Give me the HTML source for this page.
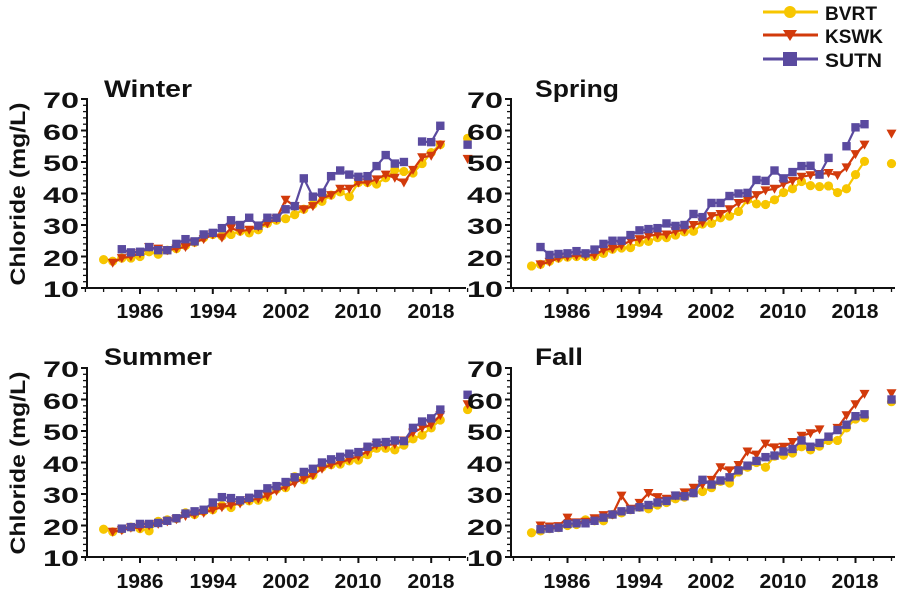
<!DOCTYPE html>
<html><head><meta charset="utf-8"><style>
html,body{margin:0;padding:0;background:#fff}
svg{display:block}
text{font-family:"Liberation Sans",sans-serif;font-weight:bold;fill:#111}
</style></head><body>
<svg id="s" width="900" height="610" viewBox="0 0 900 610" xmlns="http://www.w3.org/2000/svg">
<g id="axes" stroke="#111" stroke-width="2" fill="none"></g>
<g id="series"></g>
<text x="104" y="97" font-size="24" textLength="88">Winter</text>
<text x="535" y="97" font-size="24" textLength="84">Spring</text>
<text x="104" y="365" font-size="24" textLength="108">Summer</text>
<text x="535" y="365" font-size="24" textLength="48">Fall</text>
<text transform="translate(25,194) rotate(-90)" text-anchor="middle" font-size="21" textLength="183">Chloride (mg/L)</text>
<text transform="translate(25,463) rotate(-90)" text-anchor="middle" font-size="21" textLength="183">Chloride (mg/L)</text>
<g font-size="22" text-anchor="end">
<text x="79" y="107" textLength="36">70</text><text x="79" y="139" textLength="36">60</text><text x="79" y="170" textLength="36">50</text><text x="79" y="202" textLength="36">40</text><text x="79" y="233" textLength="36">30</text><text x="79" y="265" textLength="36">20</text><text x="79" y="296" textLength="36">10</text>
<text x="503" y="107" textLength="36">70</text><text x="503" y="139" textLength="36">60</text><text x="503" y="170" textLength="36">50</text><text x="503" y="202" textLength="36">40</text><text x="503" y="233" textLength="36">30</text><text x="503" y="265" textLength="36">20</text><text x="503" y="296" textLength="36">10</text>
<text x="79" y="376" textLength="36">70</text><text x="79" y="408" textLength="36">60</text><text x="79" y="439" textLength="36">50</text><text x="79" y="471" textLength="36">40</text><text x="79" y="502" textLength="36">30</text><text x="79" y="534" textLength="36">20</text><text x="79" y="565" textLength="36">10</text>
<text x="503" y="376" textLength="36">70</text><text x="503" y="408" textLength="36">60</text><text x="503" y="439" textLength="36">50</text><text x="503" y="471" textLength="36">40</text><text x="503" y="502" textLength="36">30</text><text x="503" y="534" textLength="36">20</text><text x="503" y="565" textLength="36">10</text>
</g>
<g font-size="20" text-anchor="middle">
<text x="140" y="318" textLength="47">1986</text><text x="213" y="318" textLength="47">1994</text><text x="286" y="318" textLength="47">2002</text><text x="358" y="318" textLength="47">2010</text><text x="431" y="318" textLength="47">2018</text>
<text x="567" y="318" textLength="47">1986</text><text x="639" y="318" textLength="47">1994</text><text x="711" y="318" textLength="47">2002</text><text x="783" y="318" textLength="47">2010</text><text x="855" y="318" textLength="47">2018</text>
<text x="140" y="588" textLength="47">1986</text><text x="213" y="588" textLength="47">1994</text><text x="286" y="588" textLength="47">2002</text><text x="358" y="588" textLength="47">2010</text><text x="431" y="588" textLength="47">2018</text>
<text x="567" y="588" textLength="47">1986</text><text x="639" y="588" textLength="47">1994</text><text x="711" y="588" textLength="47">2002</text><text x="783" y="588" textLength="47">2010</text><text x="855" y="588" textLength="47">2018</text>
</g>
<line x1="763" y1="12" x2="818" y2="12" stroke="#F7C600" stroke-width="3"/><circle cx="790" cy="12" r="6" fill="#F7C600"/>
<line x1="763" y1="35" x2="818" y2="35" stroke="#D23A0B" stroke-width="3"/><polygon points="783,30 797,30 790,41" fill="#D23A0B"/>
<line x1="763" y1="59" x2="818" y2="59" stroke="#5A4A9F" stroke-width="3"/><rect x="783" y="52" width="14" height="14" fill="#5A4A9F"/>
<text x="825" y="20" font-size="19" textLength="52">BVRT</text>
<text x="825" y="43" font-size="19" textLength="58">KSWK</text>
<text x="825" y="67" font-size="19" textLength="57">SUTN</text>
</svg>
<script>
var N=null;
var C={B:"#F7C600",K:"#D23A0B",S:"#5A4A9F"};
var panels=[
{x0:87,x1:466,bx:140,sx:9.1,by:288,
 B:[1982,[19,18.5,19.5,19.5,20,21.5,20.7,22,22.5,23.5,24.5,26,27,26.5,27,28,27.5,28.5,30.5,31.5,32,33.3,35,36.5,37.5,39.5,40.5,39,43.5,43.5,43,45,47.5,47,46.5,49.5,53,55.5],57.5],
 K:[1983,[18,19.5,20,21,23,22.5,22,22.5,23,24.5,25.5,27,26,29,28,28.5,29.5,30.5,32,38,36,35,36,38.5,39.5,41.5,41.5,43.5,43.5,44.5,46,45,43.5,47.5,51.5,52,55.5],51],
 S:[1984,[22.3,21.3,21.5,23,22,22,24,25.5,24.8,27,27.5,29,31.5,30,32.3,29.8,32.3,32.3,35,36,44.8,39,40.3,45.5,47.3,46,45.3,45.5,48.7,52.2,49.5,50,N,56.5,56.3,61.5],55.5]},
{x0:511,x1:895,bx:567.5,sx:9.0,by:288,
 B:[1982,[17,17.5,18.5,19.5,19.8,20,20,20,21,22.3,22.7,22.8,24.5,24.8,26,26,26.8,27.8,28,30.3,30.5,32.3,32.8,34.3,38,36.7,36.5,38,40.3,41.5,43.8,42.5,42.2,42.4,40.3,41.5,46,50.2],49.5],
 K:[1983,[17.5,18.3,19.5,20,20.3,20.3,20.5,22,22.5,23.5,25,25.5,26.5,27,27,28,28.5,30,30.8,32.8,33.5,35,37,38,39.5,41,41.5,43,44,45.3,45.8,46.2,46.5,45.8,48.3,52.5,55.5],59],
 S:[1983,[23,20.5,20.8,21,21.7,21,22.2,24,25,25,26.8,28.3,28.7,29,30.5,29.7,30,33.5,32.5,37,37,39.2,40,40.2,44.3,44,47.3,44.8,46.8,48.7,48.8,46,51.3,N,55,61,62],N]},
{x0:87,x1:466,bx:140,sx:9.1,by:557,
 B:[1982,[18.8,18,18.8,19.5,19,18.3,21.3,21.8,22.2,24,23.5,24.5,25,26.3,25.7,27.5,27.8,28,29,31.5,32,35.5,34.5,36,38.5,39.3,39.5,40.5,40.8,42.5,44.5,44.5,44,45.5,47.5,48.7,51,53.5],56.8],
 K:[1983,[18,18.5,19.3,19.2,20,20.5,21.3,22,23,23.5,24,25,25.8,26.5,27,28,28.5,29.5,31,32.3,33.5,35,36,38,39.3,40,41,42,43.5,45.5,45.5,45.8,47,49.5,51,52,55],58.5],
 S:[1984,[19,19.5,20.5,20.5,20.8,21.5,22.3,23.8,24.5,25,27.3,29,28.7,28,28.8,30,31.8,32.5,33.8,35.3,37,38,40,41,41.8,42.8,43.3,45,46.3,46.5,47,46.8,51,53,54,56.8],61.5]},
{x0:511,x1:895,bx:567.5,sx:9.0,by:557,
 B:[1982,[17.7,18.3,19,19.3,20,20.3,21.8,21.5,21.5,23.5,24,25,25.8,25.3,26.5,27.3,28.5,29,30.3,30.8,32,34,33.5,37,38.5,40,38.5,42,42.3,43,45,44,45.2,47,47,51,53.8,54.2],59.3],
 K:[1983,[20,19.7,19.8,22.5,21,21.2,22.3,23.3,23.5,29.5,25.3,27.2,30.3,29,28.5,29.5,30.5,32,33,34.5,38.5,37.5,39.2,43.5,42.5,46,44.8,45,46.5,48.5,49.3,50.5,N,51,55,58.5,61.8],62],
 S:[1983,[18.8,19,19.3,20.5,20.7,20.7,21.5,22.5,23.5,24.5,25,25.8,26.5,27.3,27.8,29.5,29.3,30.3,34.5,33,34.3,35.3,37.5,39,40.5,41.7,42.2,43.5,44.3,47,45,46.2,48.2,50.3,52,54.7,55.3],60]}
];
var ns="http://www.w3.org/2000/svg";
function el(p,t,a){var e=document.createElementNS(ns,t);for(var k in a)e.setAttribute(k,a[k]);p.appendChild(e);return e;}
var tx=document.getElementsByTagName("text");for(var i=0;i<tx.length;i++){tx[i].setAttribute("lengthAdjust","spacingAndGlyphs");if(tx[i].parentNode.getAttribute("font-size")=="22")tx[i].setAttribute("y",+tx[i].getAttribute("y")+1);}
var ax=document.getElementById("axes"),sg=document.getElementById("series");
panels.forEach(function(p){
 var X=function(y){return p.bx+(y-1986)*p.sx},Y=function(v){return p.by-(v-10)*3.15};
 el(ax,"line",{x1:p.x0,y1:Y(70)-1,x2:p.x0,y2:p.by+1});
 el(ax,"line",{x1:p.x0-1,y1:p.by,x2:p.x1,y2:p.by});
 for(var v=10;v<=70;v+=2){var m=(v%10==0);el(ax,"line",{x1:p.x0-(m?6:4),y1:Y(v),x2:p.x0,y2:Y(v),"stroke-width":m?2:1.3});}
 for(var y=1980;y<=2022;y+=2){var m=((y-1986)%8==0);el(ax,"line",{x1:X(y),y1:p.by,x2:X(y),y2:p.by+(m?6:4),"stroke-width":m?2:1.3});}
 ["B","K","S"].forEach(function(k){
  var s=p[k],st=s[0],vals=s[1],c=C[k];
  var d="",pen=false;
  vals.forEach(function(v,i){if(v===N){pen=false;return;}d+=(pen?"L":"M")+X(st+i).toFixed(1)+","+Y(v).toFixed(1);pen=true;});
  el(sg,"path",{d:d,stroke:c,"stroke-width":2.2,fill:"none"});
  var pts=vals.map(function(v,i){return [st+i,v]});if(s[2]!==N)pts.push([2022,s[2]]);
  pts.forEach(function(q){if(q[1]===N)return;var x=X(q[0]),y=Y(q[1]);
   if(k=="B")el(sg,"circle",{cx:x,cy:y,r:4.6,fill:c});
   else if(k=="K")el(sg,"polygon",{points:(x-5)+","+(y-4)+" "+(x+5)+","+(y-4)+" "+x+","+(y+5),fill:c});
   else el(sg,"rect",{x:x-4.2,y:y-4.2,width:8.4,height:8.4,fill:c});
  });
 });
});
</script>
</body></html>
